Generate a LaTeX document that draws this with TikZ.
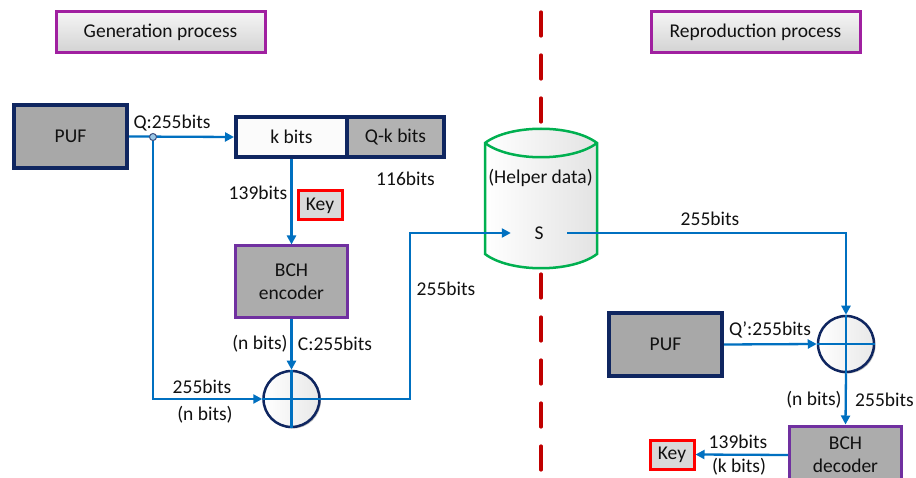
\documentclass[tikz,border=0pt]{standalone}
\usepackage{fontspec}
\setmainfont{Carlito}
\usetikzlibrary{arrows.meta,shadows}

\definecolor{navy}{HTML}{0F2660}
\definecolor{ttlpurple}{HTML}{A020A0}
\definecolor{encpurple}{HTML}{7030A0}
\definecolor{wireblue}{HTML}{0070C0}
\definecolor{storegreen}{HTML}{00B050}
\definecolor{sepred}{HTML}{C00000}
\definecolor{keyred}{HTML}{FF0000}
\definecolor{txt}{HTML}{111111}

\tikzset{
  every node/.style={font=\fontsize{19.5}{23}\selectfont, text=txt},
  softshadow/.style={drop shadow={shadow xshift=1.5pt, shadow yshift=-1.5pt, opacity=0.25, fill=black}},
  titlebox/.style={draw=ttlpurple, line width=3pt, top color=gray!8, bottom color=gray!35,
    minimum width=209pt, minimum height=41pt, inner sep=0pt, softshadow},
  pufbox/.style={draw=navy, line width=4pt, fill=gray!68, minimum width=113pt,
    minimum height=63pt, inner sep=0pt, softshadow},
  bitbox/.style={draw=navy, line width=4pt, minimum height=40pt, inner sep=0pt},
  codebox/.style={draw=encpurple, line width=3pt, fill=gray!65, align=center,
    minimum width=112pt, inner sep=0pt, softshadow},
  keybox/.style={draw=keyred, line width=3pt, fill=gray!30, minimum width=44pt,
    minimum height=29pt, inner sep=0pt, softshadow},
  xorbox/.style={circle, draw=navy, line width=2.5pt, left color=white, right color=gray!18,
    minimum size=56pt, inner sep=0pt, softshadow},
  wire/.style={draw=wireblue, line width=2.3pt},
  conn/.style={wire, -{Triangle[length=9pt,width=9pt]}},
  lbl/.style={inner sep=0pt},
  sepline/.style={draw=sepred, line width=3.2pt, line cap=round, dash pattern=on 24pt off 19pt},
}

\begin{document}
\begin{tikzpicture}[x=1pt, y=-1pt]
\clip (0,0) rectangle (916,478);
\fill[white] (0,0) rectangle (916,478);

% section titles
\node[titlebox] (gen) at (160.5,32.5) {Generation process};
\node[titlebox] (rep) at (755.5,32.5) {Reproduction process};

% separator between the two processes
\draw[sepline] (541,12) -- (541,124);
\draw[sepline] (541,274) -- (541,490);

% helper data store
\shade[left color=white, right color=gray!22, draw=storegreen, line width=2.5pt]
  (485,143) .. controls (510,124) and (572,124) .. (597,143)
  -- (597,254) .. controls (572,273) and (510,273) .. (485,254) -- cycle;
\draw[storegreen, line width=2.5pt] (485,143) .. controls (510,162) and (572,162) .. (597,143);
\node[lbl] (helper) at (540.5,178) {(Helper data)};
\node[lbl, minimum width=56pt, minimum height=20pt] (S) at (539,233) {S};

% generation side
\node[pufbox] (puf1) at (70.5,136.5) {PUF};
\node[bitbox, fill=gray!3, minimum width=111pt] (kbits) at (291.5,137) {k bits};
\node[bitbox, fill=gray!60, minimum width=97pt] (qk) at (395.5,137) {Q-k bits};
\node[keybox] (key1) at (320,205.5) {Key};
\node[codebox, minimum height=72pt] (enc) at (291.5,282) {BCH\\encoder};
\node[xorbox] (xor1) at (291.5,399) {};
\draw[wire] (xor1.north) -- (xor1.south) (xor1.west) -- (xor1.east);

\coordinate (j) at (153,137);
\coordinate (b1) at (410,233);

\draw[conn] (puf1.east) -- (kbits.west);
\draw[conn] (j) |- (xor1.west);
\draw[conn] (kbits.south) -- (enc.north);
\draw[conn] (enc.south) -- (xor1.north);
\draw[conn] (xor1.east) -| (b1) -- (S.west);
\filldraw[fill=wireblue!40, draw=navy!80, line width=1pt] (j) circle (3.5pt);

\node[lbl] (lq) at (172,123) {Q:255bits};
\node[lbl] (l116) at (405.5,179) {116bits};
\node[lbl] (l139a) at (258,193) {139bits};
\node[lbl] (lnb1) at (260,344) {(n bits)};
\node[lbl] (lc) at (335,344) {C:255bits};
\node[lbl] (l255a) at (202,387) {255bits};
\node[lbl] (lnb2) at (205,415) {(n bits)};
\node[lbl] (l255b) at (446,289) {255bits};

% reproduction side
\node[pufbox] (puf2) at (665.5,344.5) {PUF};
\node[xorbox] (xor2) at (846,344) {};
\draw[wire] (xor2.north) -- (xor2.south) (xor2.west) -- (xor2.east);
\node[codebox, minimum height=58pt] (dec) at (845.5,455) {BCH\\decoder};
\node[keybox] (key2) at (672,454.5) {Key};

\draw[conn] (S.east) -| (xor2.north);
\draw[conn] (puf2.east) -- (xor2.west);
\draw[conn] (xor2.south) -- (dec.north);
\draw[conn] (dec.west) -- (key2.east);

\node[lbl] (l255c) at (710,219) {255bits};
\node[lbl] (lq2) at (770,330) {Q’:255bits};
\node[lbl] (lnb3) at (814,400) {(n bits)};
\node[lbl] (l255d) at (884.5,400) {255bits};
\node[lbl] (l139b) at (738,442) {139bits};
\node[lbl] (lkb) at (739,467) {(k bits)};
\end{tikzpicture}
\end{document}
